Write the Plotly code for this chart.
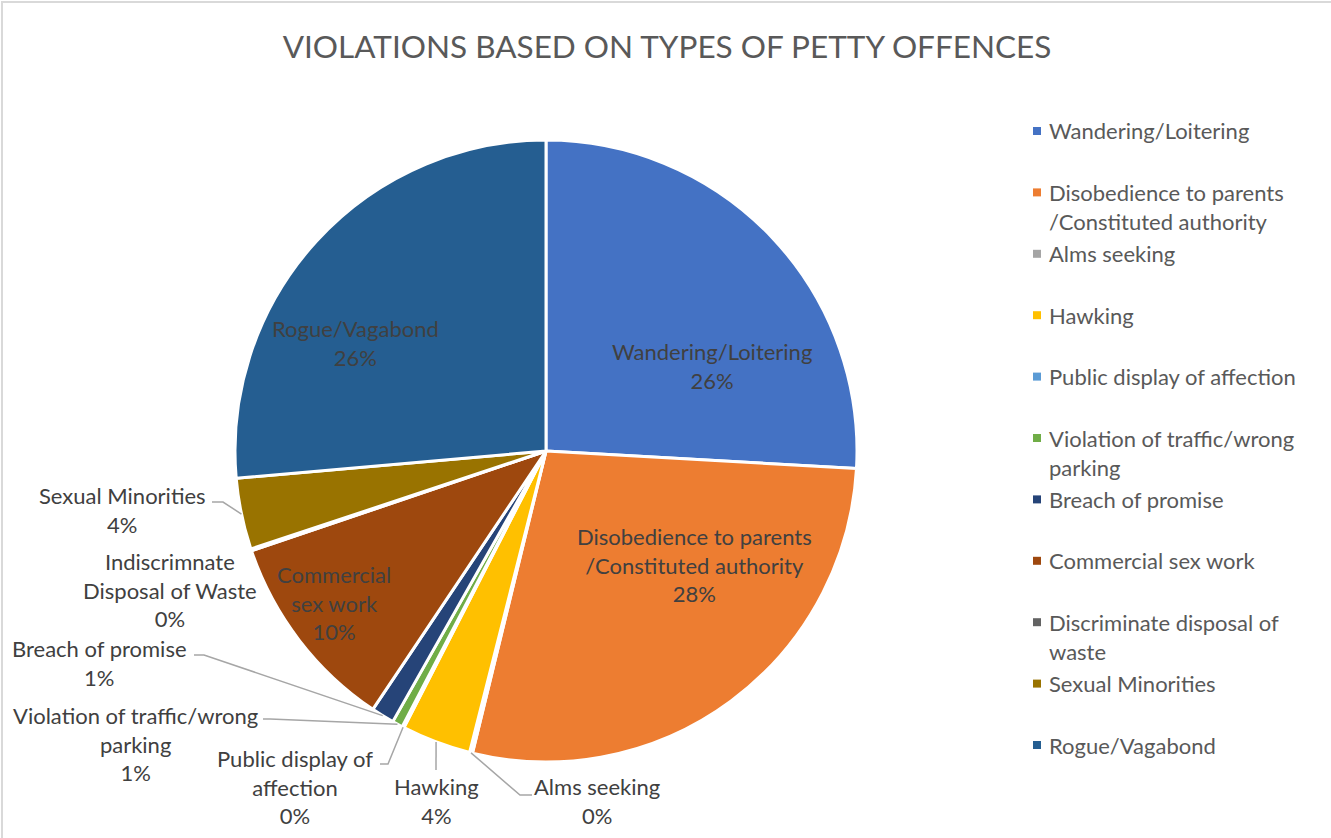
import math
import plotly.graph_objects as go

# ---- data ----------------------------------------------------------------
categories = [
    "Wandering/Loitering",
    "Disobedience to parents /Constituted authority",
    "Alms seeking",
    "Hawking",
    "Public display of affection",
    "Violation of traffic/wrong parking",
    "Breach of promise",
    "Commercial sex work",
    "Discriminate disposal of waste",
    "Sexual Minorities",
    "Rogue/Vagabond",
]
share_pct = [25.9, 27.9, 0.15, 3.6, 0.1, 0.55, 1.2, 10.4, 0.1, 3.7, 26.4]

legend_lines = [
    ["Wandering/Loitering"],
    ["Disobedience to parents", "/Constituted authority"],
    ["Alms seeking"],
    ["Hawking"],
    ["Public display of affection"],
    ["Violation of traffic/wrong", "parking"],
    ["Breach of promise"],
    ["Commercial sex work"],
    ["Discriminate disposal of", "waste"],
    ["Sexual Minorities"],
    ["Rogue/Vagabond"],
]
data_label_lines = [
    ["Wandering/Loitering"],
    ["Disobedience to parents", "/Constituted authority"],
    ["Alms seeking"],
    ["Hawking"],
    ["Public display of", "affection"],
    ["Violation of traffic/wrong", "parking"],
    ["Breach of promise"],
    ["Commercial", "sex work"],
    ["Indiscrimnate", "Disposal of Waste"],
    ["Sexual Minorities"],
    ["Rogue/Vagabond"],
]

colors = ["#4472C4", "#ED7D31", "#A5A5A5", "#FFC000", "#5B9BD5", "#70AD47",
          "#264478", "#9E480E", "#636363", "#997300", "#255E91"]

# ---- page geometry (pixels) ----------------------------------------------
W, H = 1331, 838
CX, CY, R = 546, 451, 311
FONT = "Lato"
LABEL_SIZE = 22
LINE_H = 29.5


def px(x):
    return x / W


def py(y):
    return 1 - y / H


total = sum(share_pct)
pct_text = [f"{int(v / total * 100 + 0.5)}%" for v in share_pct]

# mid-angle of each slice (clockwise from 12 o'clock) -> point on the rim
rim = []
acc = 0.0
for v in share_pct:
    mid = (acc + v / 2) / total * 2 * math.pi
    rim.append((CX + R * math.sin(mid), CY - R * math.cos(mid)))
    acc += v

fig = go.Figure(go.Pie(
    labels=categories,
    values=share_pct,
    sort=False,
    direction="clockwise",
    rotation=0,
    marker=dict(colors=colors, line=dict(color="white", width=3)),
    textinfo="none",
    showlegend=False,
    domain=dict(x=[px(CX - R), px(CX + R)], y=[py(CY + R), py(CY - R)]),
    hovertemplate="%{label}: %{percent}<extra></extra>",
))

annotations = []
shapes = []

# data labels: centre of each text block
label_pos = {
    0: (712, 366),
    1: (694, 565),
    2: (597, 801),
    3: (436, 801),
    4: (295, 787),
    5: (135, 744),
    6: (100, 663),
    7: (334, 603),
    8: (170, 590),
    9: (122, 510),
    10: (356, 343),
}
for i, (x, y) in label_pos.items():
    lines = data_label_lines[i] + [pct_text[i]]
    annotations.append(dict(
        x=px(x), y=py(y), xref="paper", yref="paper",
        text="<br>".join(lines), showarrow=False, align="center",
        xanchor="center", yanchor="middle",
        font=dict(family=FONT, size=LABEL_SIZE, color="#404040"),
    ))

# leader lines: label anchor -> optional elbow -> slice rim
leaders = {
    9: [(212, 502), (223, 502)],
    6: [(194, 655), (204, 655)],
    5: [(263, 719), (270, 719)],
    4: [(380, 764), (388, 764)],
    3: [(436, 770)],
    2: [(532, 795), (520, 795)],
}
for i, pts in leaders.items():
    pts = pts + [rim[i]]
    path = "M " + " L ".join(f"{px(a):.5f},{py(b):.5f}" for a, b in pts)
    shapes.append(dict(type="path", path=path, xref="paper", yref="paper",
                       line=dict(color="#A6A6A6", width=1.5)))

# legend
LEG_Y0, LEG_STEP = 131, 61.4
for i, lines in enumerate(legend_lines):
    yc = LEG_Y0 + i * LEG_STEP
    shapes.append(dict(type="rect", xref="paper", yref="paper",
                       x0=px(1033), x1=px(1041), y0=py(yc + 4), y1=py(yc - 4),
                       fillcolor=colors[i], line=dict(width=0)))
    for k, t in enumerate(lines):
        annotations.append(dict(
            x=px(1047), y=py(yc + k * LINE_H), xref="paper", yref="paper",
            text=t, showarrow=False, xanchor="left", yanchor="middle",
            font=dict(family=FONT, size=LABEL_SIZE, color="#595959"),
        ))

# chart border
shapes.append(dict(type="rect", xref="paper", yref="paper",
                   x0=px(2), x1=px(W + 10), y0=py(H + 10), y1=py(2),
                   line=dict(color="#D9D9D9", width=2), fillcolor="rgba(0,0,0,0)"))

fig.update_layout(
    width=W, height=H,
    margin=dict(l=0, r=0, t=0, b=0),
    paper_bgcolor="white",
    title=dict(text="VIOLATIONS BASED ON TYPES OF PETTY OFFENCES",
               x=px(667), xanchor="center", y=py(47), yanchor="middle",
               font=dict(family=FONT, size=31.5, color="#595959")),
    annotations=annotations,
    shapes=shapes,
)

fig.write_html("out.html")
